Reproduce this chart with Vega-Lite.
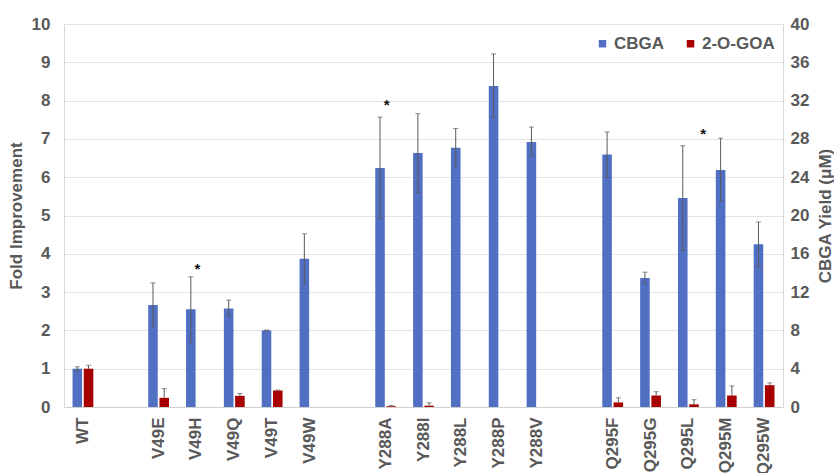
{
  "$schema": "https://vega.github.io/schema/vega-lite/v6.json",
  "width": 719,
  "height": 383,
  "autosize": {"type": "none"},
  "padding": {"left": 64, "top": 24, "right": 51, "bottom": 66},
  "background": "white",
  "config": {
    "view": {"stroke": null},
    "font": "Liberation Sans",
    "axis": {
      "labelFont": "Liberation Sans",
      "titleFont": "Liberation Sans",
      "labelFontSize": 17,
      "labelFontWeight": "bold",
      "labelColor": "#595959",
      "titleFontSize": 17,
      "titleFontWeight": "bold",
      "titleColor": "#595959",
      "domainColor": "#d9d9d9",
      "gridColor": "#e3e3e3",
      "ticks": false,
      "labelOverlap": false
    }
  },
  "datasets": {
    "bars": [
      {"mutant": "WT", "series": "CBGA", "value": 1.0, "lo": 0.94, "hi": 1.05},
      {"mutant": "WT", "series": "2-O-GOA", "value": 1.0, "lo": 1.0, "hi": 1.09},
      {"mutant": "V49E", "series": "CBGA", "value": 2.66, "lo": 2.09, "hi": 3.24},
      {"mutant": "V49E", "series": "2-O-GOA", "value": 0.24, "lo": 0.24, "hi": 0.48},
      {"mutant": "V49H", "series": "CBGA", "value": 2.55, "lo": 1.69, "hi": 3.4},
      {"mutant": "V49Q", "series": "CBGA", "value": 2.57, "lo": 2.36, "hi": 2.79},
      {"mutant": "V49Q", "series": "2-O-GOA", "value": 0.29, "lo": 0.29, "hi": 0.35},
      {"mutant": "V49T", "series": "CBGA", "value": 2.0, "lo": 1.99, "hi": 2.01},
      {"mutant": "V49T", "series": "2-O-GOA", "value": 0.43, "lo": 0.43, "hi": 0.44},
      {"mutant": "V49W", "series": "CBGA", "value": 3.87, "lo": 3.21, "hi": 4.52},
      {"mutant": "Y288A", "series": "CBGA", "value": 6.24, "lo": 4.93, "hi": 7.57},
      {"mutant": "Y288A", "series": "2-O-GOA", "value": 0.02, "lo": 0.02, "hi": 0.04},
      {"mutant": "Y288I", "series": "CBGA", "value": 6.63, "lo": 5.6, "hi": 7.66},
      {"mutant": "Y288I", "series": "2-O-GOA", "value": 0.035, "lo": 0.035, "hi": 0.11},
      {"mutant": "Y288L", "series": "CBGA", "value": 6.77, "lo": 6.27, "hi": 7.27},
      {"mutant": "Y288P", "series": "CBGA", "value": 8.38, "lo": 7.56, "hi": 9.22},
      {"mutant": "Y288V", "series": "CBGA", "value": 6.92, "lo": 6.56, "hi": 7.31},
      {"mutant": "Q295F", "series": "CBGA", "value": 6.59, "lo": 6.0, "hi": 7.18},
      {"mutant": "Q295F", "series": "2-O-GOA", "value": 0.12, "lo": 0.12, "hi": 0.24},
      {"mutant": "Q295G", "series": "CBGA", "value": 3.37, "lo": 3.22, "hi": 3.52},
      {"mutant": "Q295G", "series": "2-O-GOA", "value": 0.3, "lo": 0.3, "hi": 0.4},
      {"mutant": "Q295L", "series": "CBGA", "value": 5.46, "lo": 4.09, "hi": 6.82},
      {"mutant": "Q295L", "series": "2-O-GOA", "value": 0.07, "lo": 0.07, "hi": 0.19},
      {"mutant": "Q295M", "series": "CBGA", "value": 6.19, "lo": 5.37, "hi": 7.02},
      {"mutant": "Q295M", "series": "2-O-GOA", "value": 0.3, "lo": 0.3, "hi": 0.55},
      {"mutant": "Q295W", "series": "CBGA", "value": 4.25, "lo": 3.67, "hi": 4.83},
      {"mutant": "Q295W", "series": "2-O-GOA", "value": 0.57, "lo": 0.57, "hi": 0.63}
    ],
    "stars": [
      {"mutant": "V49H", "y": 3.72, "label": "*"},
      {"mutant": "Y288A", "y": 8.0, "label": "*"}
    ],
    "stars2": [
      {"mutant": "Q295M", "y": 7.24, "label": "*"}
    ]
  },
  "encoding": {
    "x": {
      "field": "mutant",
      "type": "nominal",
      "sort": null,
      "scale": {
        "domain": ["WT", "gap1", "V49E", "V49H", "V49Q", "V49T", "V49W", "gap2", "Y288A", "Y288I", "Y288L", "Y288P", "Y288V", "gap3", "Q295F", "Q295G", "Q295L", "Q295M", "Q295W"],
        "paddingInner": 0.45,
        "paddingOuter": 0.225
      },
      "axis": {
        "title": null,
        "labelAngle": -90,
        "labelAlign": "right",
        "labelBaseline": "middle",
        "labelPadding": 10,
        "grid": false,
        "domainColor": "#d0d0d0",
        "labelExpr": "indexof(datum.value, 'gap') == 0 ? '' : datum.value"
      }
    }
  },
  "layer": [
    {
      "encoding": {
        "y": {
          "type": "quantitative",
          "scale": {"domain": [0, 10], "nice": false},
          "axis": {
            "title": "Fold Improvement",
            "orient": "left",
            "values": [0, 1, 2, 3, 4, 5, 6, 7, 8, 9, 10],
            "labelPadding": 14,
            "titlePadding": 6,
            "grid": true
          }
        }
      },
      "layer": [
        {
          "data": {"name": "bars"},
          "mark": {"type": "bar"},
          "encoding": {
            "xOffset": {"field": "series", "type": "nominal", "scale": {"domain": ["CBGA", "2-O-GOA"], "paddingInner": 0.15}},
            "y": {"field": "value"},
            "color": {
              "field": "series",
              "type": "nominal",
              "scale": {"domain": ["CBGA", "2-O-GOA"], "range": ["#5170c4", "#a80000"]},
              "legend": {
                "title": null,
                "orient": "none",
                "legendX": 530,
                "legendY": 11,
                "direction": "horizontal",
                "symbolType": "square",
                "symbolSize": 56,
                "symbolStrokeWidth": 0,
                "labelFont": "Liberation Sans",
                "labelFontSize": 17,
                "labelFontWeight": "bold",
                "labelColor": "#595959",
                "labelOffset": 3,
                "columnPadding": 17
              }
            }
          }
        },
        {
          "data": {"name": "bars"},
          "mark": {"type": "rule", "color": "#5a5a5a", "strokeWidth": 1},
          "encoding": {
            "xOffset": {"field": "series", "type": "nominal", "scale": {"domain": ["CBGA", "2-O-GOA"], "paddingInner": 0.15}},
            "y": {"field": "lo"},
            "y2": {"field": "hi"}
          }
        },
        {
          "data": {"name": "bars"},
          "mark": {"type": "tick", "color": "#5a5a5a", "thickness": 1, "size": 5, "orient": "horizontal"},
          "encoding": {
            "xOffset": {"field": "series", "type": "nominal", "scale": {"domain": ["CBGA", "2-O-GOA"], "paddingInner": 0.15}},
            "y": {"field": "hi"}
          }
        },
        {
          "data": {"name": "bars"},
          "transform": [{"filter": "datum.series == 'CBGA'"}],
          "mark": {"type": "tick", "color": "#5a5a5a", "thickness": 1, "size": 5, "orient": "horizontal"},
          "encoding": {
            "xOffset": {"field": "series", "type": "nominal", "scale": {"domain": ["CBGA", "2-O-GOA"], "paddingInner": 0.15}},
            "y": {"field": "lo"}
          }
        },
        {
          "data": {"name": "stars"},
          "mark": {"type": "text", "font": "Liberation Sans", "fontSize": 15, "fontWeight": "bold", "color": "#111111", "baseline": "middle", "dy": 4, "dx": 1},
          "encoding": {
            "y": {"field": "y"},
            "text": {"field": "label"}
          }
        },
        {
          "data": {"name": "stars2"},
          "mark": {"type": "text", "font": "Liberation Sans", "fontSize": 15, "fontWeight": "bold", "color": "#111111", "baseline": "middle", "dy": 4, "dx": -23},
          "encoding": {
            "y": {"field": "y"},
            "text": {"field": "label"}
          }
        }
      ]
    },
    {
      "data": {"values": [{}]},
      "mark": {"type": "rule", "opacity": 0},
      "encoding": {
        "y": {
          "datum": 0,
          "type": "quantitative",
          "scale": {"domain": [0, 40], "nice": false},
          "axis": {
            "title": "CBGA Yield (μM)",
            "orient": "right",
            "values": [0, 4, 8, 12, 16, 20, 24, 28, 32, 36, 40],
            "labelPadding": 7,
            "titlePadding": 9,
            "titleAngle": 270,
            "titleBaseline": "top",
            "grid": false
          }
        }
      }
    }
  ],
  "resolve": {"scale": {"y": "independent"}}
}
